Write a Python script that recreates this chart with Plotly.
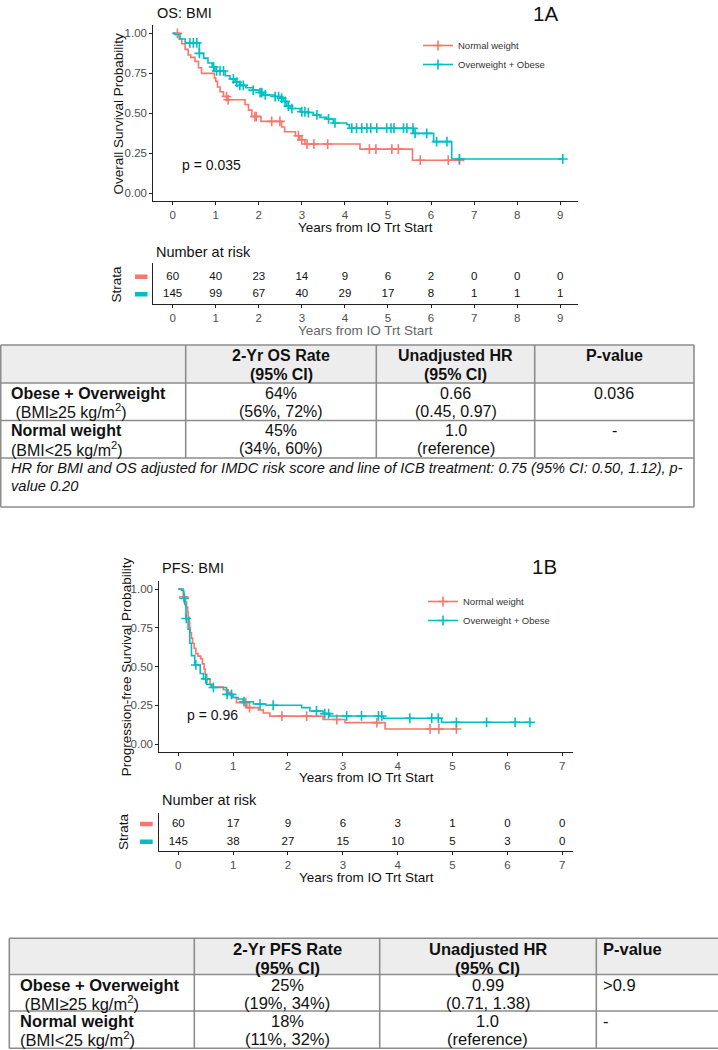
import numpy as np
import plotly.graph_objects as go

W, H = 718, 1050
RED = "#F8766D"
TEAL = "#00BFC4"
FONT = "Liberation Sans, Arial, Helvetica, sans-serif"
AXC = "#222222"
TICKC = "#4d4d4d"
BORDER = "#8c8c8c"
HDRFILL = "#ededed"

groups = ["Normal weight", "Overweight + Obese"]

# ---------------- OS (1A) Kaplan-Meier estimates ----------------
os_nw_time = [0, 0.15, 0.21, 0.29, 0.36, 0.42, 0.52, 0.6, 0.67, 0.97, 1.0, 1.04, 1.1, 1.18, 1.26,
              1.68, 1.76, 1.84, 2.05, 2.53, 2.6, 2.85, 2.95, 3.07, 4.35, 5.57]
os_nw_surv = [1.0, 0.965, 0.935, 0.9, 0.865, 0.85, 0.825, 0.785, 0.75, 0.72, 0.7, 0.665, 0.635, 0.605,
              0.585, 0.555, 0.52, 0.48, 0.45, 0.415, 0.385, 0.36, 0.335, 0.308, 0.276, 0.207]
os_nw_cens = [0.11, 1.25, 1.29, 1.91, 1.94, 2.3, 2.49, 2.92, 3.0, 3.12, 3.28, 3.6,
              4.57, 4.72, 5.09, 5.24, 5.75, 6.4, 6.66]

os_ow_time = [0, 0.05, 0.17, 0.29, 0.62, 0.72, 0.82, 0.92, 0.98, 1.22, 1.33, 1.45, 1.56, 1.7,
              1.87, 2.01, 2.1, 2.38, 2.5, 2.57, 2.65, 2.73, 2.96, 3.1, 3.27, 3.42, 3.58, 3.73,
              4.04, 4.1, 5.59, 6.06, 6.48]
os_ow_surv = [1.0, 0.993, 0.965, 0.94, 0.875, 0.845, 0.815, 0.79, 0.765, 0.735, 0.715, 0.695, 0.675,
              0.66, 0.645, 0.63, 0.615, 0.605, 0.595, 0.575, 0.545, 0.53, 0.51, 0.505, 0.49, 0.475,
              0.465, 0.44, 0.43, 0.407, 0.375, 0.323, 0.215]
os_ow_cens = [0.4, 0.48, 0.56, 0.62, 0.95, 1.02, 1.1, 1.18, 1.41, 1.49, 1.56, 1.64, 1.87, 2.03,
              2.07, 2.15, 2.38, 2.46, 2.53, 2.61, 2.69, 2.77, 3.0, 3.07, 3.15, 3.35, 3.62, 3.77,
              4.16, 4.27, 4.39, 4.51, 4.6, 4.74, 4.97, 5.07, 5.14, 5.36, 5.44, 5.58, 5.63, 5.9,
              6.13, 6.37, 6.66, 9.06]

os_risk_times = [0, 1, 2, 3, 4, 5, 6, 7, 8, 9]
os_risk_nw = [60, 40, 23, 14, 9, 6, 2, 0, 0, 0]
os_risk_ow = [145, 99, 67, 40, 29, 17, 8, 1, 1, 1]
os_pval = "p = 0.035"

# ---------------- PFS (1B) Kaplan-Meier estimates ----------------
pfs_nw_time = [0, 0.09, 0.13, 0.15, 0.17, 0.18, 0.2, 0.21, 0.22, 0.24, 0.26, 0.29, 0.32, 0.36, 0.41,
               0.44, 0.47, 0.49, 0.52, 0.58, 0.62, 0.82, 0.91, 0.97, 1.06, 1.25, 1.46, 1.55, 1.67,
               2.64, 3.04, 3.77]
pfs_nw_surv = [1.0, 0.95, 0.917, 0.883, 0.85, 0.817, 0.783, 0.75, 0.717, 0.683, 0.65, 0.617, 0.583,
               0.567, 0.55, 0.517, 0.483, 0.45, 0.417, 0.383, 0.367, 0.35, 0.333, 0.3, 0.267, 0.235,
               0.22, 0.2, 0.18, 0.158, 0.138, 0.097]
pfs_nw_cens = [0.1, 1.23, 1.3, 1.89, 2.34, 2.89, 3.62, 4.59, 4.75, 5.07]

pfs_ow_time = [0, 0.06, 0.1, 0.12, 0.14, 0.18, 0.21, 0.24, 0.3, 0.4, 0.46, 0.52, 0.6, 0.88, 1.0,
               1.09, 1.18, 1.37, 1.6, 2.25, 2.4, 2.64, 2.76, 3.74, 4.8]
pfs_ow_surv = [1.0, 0.99, 0.94, 0.9, 0.81, 0.74, 0.65, 0.57, 0.51, 0.455, 0.42, 0.385, 0.365, 0.32,
               0.3, 0.29, 0.273, 0.258, 0.25, 0.235, 0.213, 0.196, 0.181, 0.166, 0.14]
pfs_ow_cens = [0.11, 0.145, 0.32, 0.5, 0.64, 0.89, 0.97, 1.2, 1.49, 1.73, 2.52, 2.67, 2.74, 3.07,
               3.34, 3.65, 3.71, 4.22, 4.62, 4.74, 5.07, 5.62, 6.14, 6.41]

pfs_risk_times = [0, 1, 2, 3, 4, 5, 6, 7]
pfs_risk_nw = [60, 17, 9, 6, 3, 1, 0, 0]
pfs_risk_ow = [145, 38, 27, 15, 10, 5, 3, 0]
pfs_pval = "p = 0.96"

# ---------------- Summary tables ----------------
os_tbl_head1 = ["", "2-Yr OS Rate", "Unadjusted HR", "P-value"]
os_tbl_head2 = ["", "(95% CI)", "(95% CI)", ""]
os_tbl_rows = [
    [("Obese + Overweight", "\u00a0(BMI≥25 kg/m<sup>2</sup>)"), ("64%", "(56%, 72%)"),
     ("0.66", "(0.45, 0.97)"), ("0.036", "")],
    [("Normal weight", "(BMI&lt;25 kg/m<sup>2</sup>)"), ("45%", "(34%, 60%)"),
     ("1.0", "(reference)"), ("-", "")],
]
os_tbl_note = ["HR for BMI and OS adjusted for IMDC risk score and line of ICB treatment: "
               "0.75 (95% CI: 0.50, 1.12), p-", "value 0.20"]

pfs_tbl_head1 = ["", "2-Yr PFS Rate", "Unadjusted HR", "P-value"]
pfs_tbl_head2 = ["", "(95% CI)", "(95% CI)", ""]
pfs_tbl_rows = [
    [("Obese + Overweight", "\u00a0(BMI≥25 kg/m<sup>2</sup>)"), ("25%", "(19%, 34%)"),
     ("0.99", "(0.71, 1.38)"), ("&gt;0.9", "")],
    [("Normal weight", "(BMI&lt;25 kg/m<sup>2</sup>)"), ("18%", "(11%, 32%)"),
     ("1.0", "(reference)"), ("-", "")],
]


def px(x):
    return x / W


def py(y):
    return 1 - y / H


def step_at(times, surv, t):
    idx = np.searchsorted(np.asarray(times), np.asarray(t), side="right") - 1
    return list(np.asarray(surv)[idx])


fig = go.Figure()
shapes = []
ann = []


def km_traces(times, surv, cens, color, name, xa, ya, leg):
    end = max(max(cens), times[-1])
    fig.add_trace(go.Scatter(x=list(times) + [end], y=list(surv) + [surv[-1]], mode="lines",
                             line=dict(color=color, width=1.6, shape="hv"), showlegend=False,
                             xaxis=xa, yaxis=ya, hoverinfo="skip"))
    fig.add_trace(go.Scatter(x=cens, y=step_at(times, surv, cens), mode="markers",
                             marker=dict(symbol="cross-thin", size=7, line=dict(color=color, width=1.6)),
                             showlegend=False, xaxis=xa, yaxis=ya, hoverinfo="skip"))
    fig.add_trace(go.Scatter(x=[None], y=[None], mode="lines+markers", name=name,
                             line=dict(color=color, width=1.6),
                             marker=dict(symbol="cross-thin", size=7, line=dict(color=color, width=1.6)),
                             xaxis=xa, yaxis=ya, legend=leg))


km_traces(os_nw_time, os_nw_surv, os_nw_cens, RED, groups[0], "x", "y", "legend")
km_traces(os_ow_time, os_ow_surv, os_ow_cens, TEAL, groups[1], "x", "y", "legend")
km_traces(pfs_nw_time, pfs_nw_surv, pfs_nw_cens, RED, groups[0], "x3", "y3", "legend2")
km_traces(pfs_ow_time, pfs_ow_surv, pfs_ow_cens, TEAL, groups[1], "x3", "y3", "legend2")

# risk tables
for times, nw, ow, xa, ya in [(os_risk_times, os_risk_nw, os_risk_ow, "x2", "y2"),
                              (pfs_risk_times, pfs_risk_nw, pfs_risk_ow, "x4", "y4")]:
    fig.add_trace(go.Scatter(x=times, y=[groups[0]] * len(times), text=[str(v) for v in nw],
                             mode="text", textfont=dict(size=11.5, color="#111", family=FONT),
                             showlegend=False, xaxis=xa, yaxis=ya, hoverinfo="skip"))
    fig.add_trace(go.Scatter(x=times, y=[groups[1]] * len(times), text=[str(v) for v in ow],
                             mode="text", textfont=dict(size=11.5, color="#111", family=FONT),
                             showlegend=False, xaxis=xa, yaxis=ya, hoverinfo="skip"))

# strata colour keys
for ya, x0, x1 in [("y2", 135, 147.5), ("y4", 140, 152.7)]:
    for name, col in [(groups[0], RED), (groups[1], TEAL)]:
        idx = [groups[1], groups[0]].index(name)
        shapes.append(dict(type="line", xref="paper", yref=ya, x0=px(x0), x1=px(x1), y0=idx, y1=idx,
                           line=dict(color=col, width=4.5)))

axis_common = dict(showline=True, linecolor=AXC, linewidth=1.1, ticks="outside", ticklen=3,
                   tickcolor=AXC, tickwidth=1, showgrid=False, zeroline=False,
                   tickfont=dict(size=11.5, color=TICKC, family=FONT))

os_xdom = [px(153.3), px(578.3)]
pfs_xdom = [px(159.3), px(572.7)]
os_xr = [-0.45, 9.42]
pfs_xr = [-0.346, 7.19]
ytv = [0, 0.25, 0.5, 0.75, 1.0]
ytt = ["0.00", "0.25", "0.50", "0.75", "1.00"]

fig.update_layout(
    xaxis=dict(domain=os_xdom, range=os_xr, tickvals=os_risk_times, anchor="y", **axis_common),
    yaxis=dict(domain=[py(201.33), py(25.33)], range=[-0.05, 1.05], tickvals=ytv, ticktext=ytt,
               anchor="x", **axis_common),
    xaxis2=dict(domain=os_xdom, range=os_xr, tickvals=os_risk_times, anchor="y2", **axis_common),
    yaxis2=dict(domain=[py(304), py(263.3)], range=[-0.55, 1.76], type="category",
                categoryorder="array", categoryarray=[groups[1], groups[0]], anchor="x2",
                showline=True, linecolor=AXC, linewidth=1.1, showticklabels=False, ticks="",
                showgrid=False, zeroline=False),
    xaxis3=dict(domain=pfs_xdom, range=pfs_xr, tickvals=pfs_risk_times, anchor="y3", **axis_common),
    yaxis3=dict(domain=[py(751.75), py(581.25)], range=[-0.05, 1.05], tickvals=ytv, ticktext=ytt,
                anchor="x3", **axis_common),
    xaxis4=dict(domain=pfs_xdom, range=pfs_xr, tickvals=pfs_risk_times, anchor="y4", **axis_common),
    yaxis4=dict(domain=[py(850.7), py(812.7)], range=[-0.51, 1.64], type="category",
                categoryorder="array", categoryarray=[groups[1], groups[0]], anchor="x4",
                showline=True, linecolor=AXC, linewidth=1.1, showticklabels=False, ticks="",
                showgrid=False, zeroline=False),
)


def text(x, y, s, size, color="#111", xanchor="left", angle=0, xref="paper", yref="paper"):
    ann.append(dict(x=x, y=y, xref=xref, yref=yref, text=s, showarrow=False, xanchor=xanchor,
                    yanchor="middle", textangle=angle,
                    font=dict(size=size, color=color, family=FONT)))


# titles / labels for the plots
text(px(155), py(13), "OS: BMI", 14.5)
text(px(545.7), py(13), "1A", 20.5, xanchor="center")
text(px(365.8), py(228), "Years from IO Trt Start", 13.5, xanchor="center")
text(px(118.3), py(113.3), "Overall Survival Probability", 13.5, xanchor="center", angle=-90)
text(0.17, 0.18, os_pval, 14, xref="x", yref="y")
text(px(154.3), py(252), "Number at risk", 14.5)
text(px(116.7), py(283.7), "Strata", 13.5, xanchor="center", angle=-90)
text(px(365.8), py(330), "Years from IO Trt Start", 13.5, color="#666", xanchor="center")

text(px(160), py(568), "PFS: BMI", 14.5)
text(px(544.7), py(566.7), "1B", 20.5, xanchor="center")
text(px(366), py(777), "Years from IO Trt Start", 13.5, xanchor="center")
text(px(126.7), py(666.5), "Progression-free Survival Probability", 13.5, xanchor="center", angle=-90)
text(0.12, 0.19, pfs_pval, 14, xref="x3", yref="y3")
text(px(160), py(800), "Number at risk", 14.5)
text(px(123.3), py(831.7), "Strata", 13.5, xanchor="center", angle=-90)
text(px(366), py(877), "Years from IO Trt Start", 13.5, xanchor="center")


# ---------------- tables ----------------
def line(x0, y0, x1, y1):
    shapes.append(dict(type="line", xref="paper", yref="paper", x0=px(x0), y0=py(y0), x1=px(x1),
                       y1=py(y1), line=dict(color=BORDER, width=1.6)))


def draw_table(cols, rows_y, head1, head2, body, size, col1_x, p_left=None, note=None, note_bottom=None):
    shapes.append(dict(type="rect", xref="paper", yref="paper", x0=px(cols[0]), x1=px(cols[-1]),
                       y0=py(rows_y[1]), y1=py(rows_y[0]), fillcolor=HDRFILL, line=dict(width=0),
                       layer="below"))
    bottom = note_bottom if note is not None else rows_y[-1]
    for y in rows_y:
        line(cols[0], y, cols[-1], y)
    if note is not None:
        line(cols[0], bottom, cols[-1], bottom)
    line(cols[0], rows_y[0], cols[0], bottom)
    line(cols[-1], rows_y[0], cols[-1], bottom)
    for c in cols[1:-1]:
        line(c, rows_y[0], c, rows_y[-1])
    centers = [(cols[i] + cols[i + 1]) / 2 for i in range(len(cols) - 1)]

    def cell_x(j):
        if j == 0:
            return col1_x, "left"
        if j == 3 and p_left is not None:
            return p_left, "left"
        return centers[j], "center"

    for j in range(1, 4):
        xx, anc = cell_x(j)
        if head1[j]:
            text(px(xx), py(rows_y[0] + 10.5), "<b>" + head1[j] + "</b>", size, xanchor=anc)
        if head2[j]:
            text(px(xx), py(rows_y[0] + 29.5), "<b>" + head2[j] + "</b>", size, xanchor=anc)
    for i, row in enumerate(body):
        top = rows_y[i + 1]
        for j, (l1, l2) in enumerate(row):
            xx, anc = cell_x(j)
            t1 = "<b>" + l1 + "</b>" if j == 0 else l1
            text(px(xx), py(top + 10.3), t1, size, xanchor=anc)
            if l2:
                text(px(xx), py(top + 28), l2, size, xanchor=anc)
    if note is not None:
        top = rows_y[-1]
        for k, s in enumerate(note):
            text(px(col1_x), py(top + 10.3 + 17.4 * k), "<i>" + s + "</i>", 14.6)


draw_table([0.7, 185.7, 376.3, 534.7, 694.0], [345, 383, 420.5, 458],
           os_tbl_head1, os_tbl_head2, os_tbl_rows, 16, 9.3, note=os_tbl_note, note_bottom=507)
draw_table([9.3, 194.3, 379.7, 596.3, 730.0], [938.3, 974.5, 1011, 1048.3],
           pfs_tbl_head1, pfs_tbl_head2, pfs_tbl_rows, 16.5, 18, p_left=600.7)

leg_common = dict(font=dict(size=9.5, color="#333", family=FONT), bgcolor="rgba(0,0,0,0)",
                  xanchor="left", yanchor="top", itemwidth=30, tracegroupgap=0)
fig.update_layout(
    width=W, height=H, margin=dict(l=0, r=0, t=0, b=0),
    paper_bgcolor="white", plot_bgcolor="white",
    font=dict(family=FONT, color="#111"),
    shapes=shapes, annotations=ann,
    legend=dict(x=px(418), y=py(31), **leg_common),
    legend2=dict(x=px(423), y=py(587), **leg_common),
)

fig.write_html("out.html", config={"displayModeBar": False},
               post_script="document.body.style.margin='0';document.body.style.overflow='hidden';")
